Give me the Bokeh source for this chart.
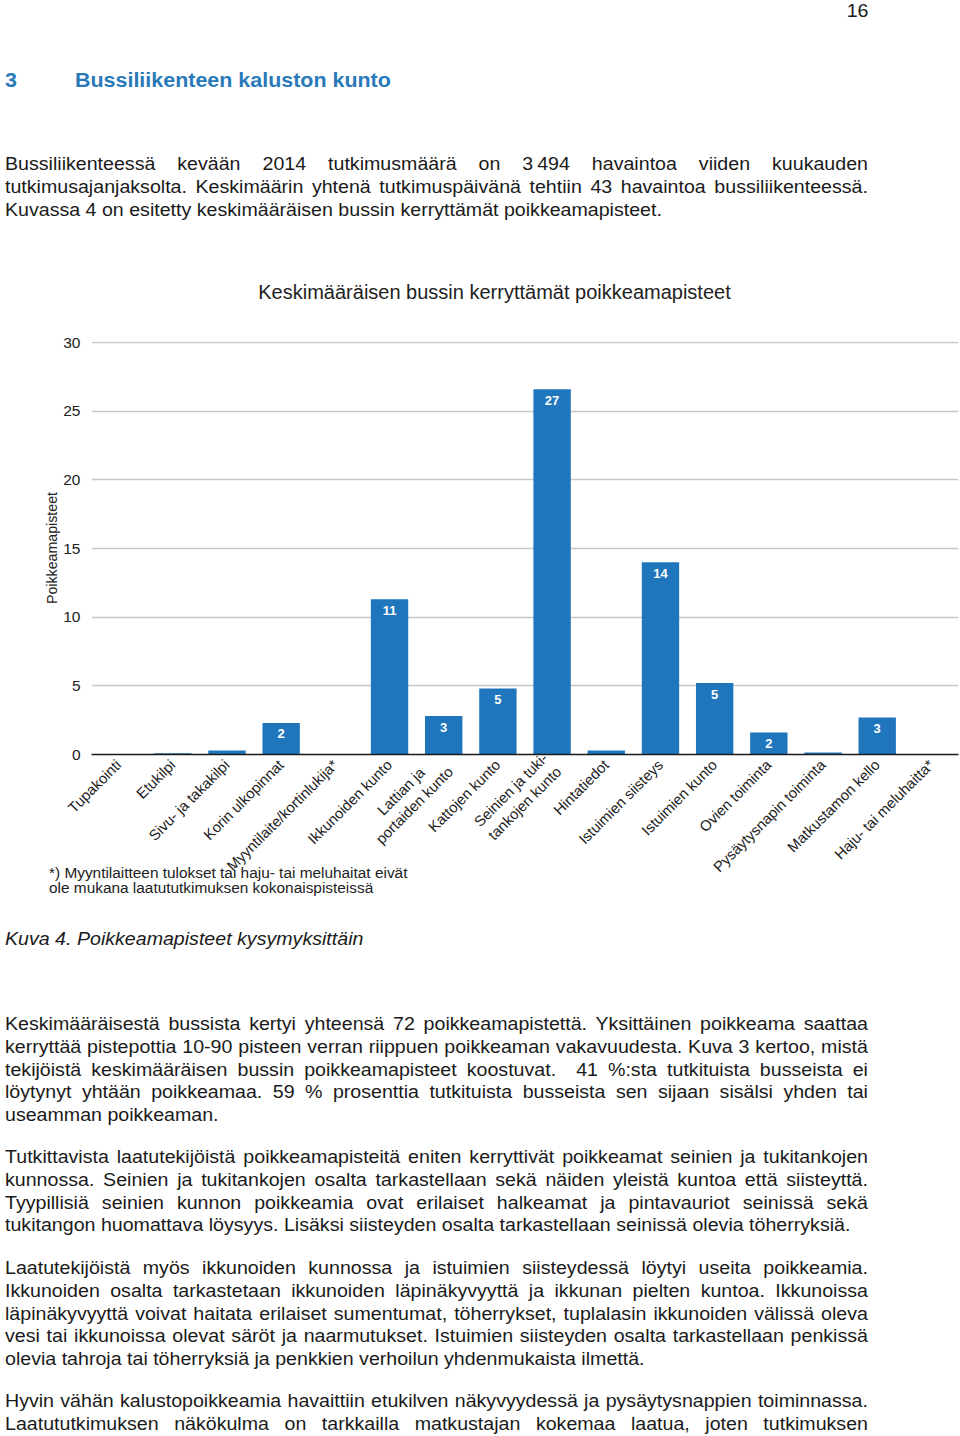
import math
from bokeh.plotting import figure
from bokeh.models import FactorRange, Range1d, FixedTicker, ColumnDataSource, Div
from bokeh.layouts import column
from bokeh.core.properties import value
from bokeh.embed import file_html
from bokeh.resources import INLINE

# ---------------- data ----------------
categories = ["Tupakointi", "Etukilpi", "Sivu- ja takakilpi", "Korin ulkopinnat",
              "Myyntilaite/kortinlukija*", "Ikkunoiden kunto", "Lattian ja     \nportaiden kunto",
              "Kattojen kunto", "Seinien ja tuki-\ntankojen kunto", "Hintatiedot",
              "Istuimien siisteys", "Istuimien kunto", "Ovien toiminta",
              "Pysäytysnapin toiminta", "Matkustamon kello", "Haju- tai meluhaitta*"]
values = [0, 0.1, 0.3, 2.3, 0, 11.3, 2.8, 4.8, 26.6, 0.3, 14.0, 5.2, 1.6, 0.15, 2.7, 0]
y_ticks = [0, 5, 10, 15, 20, 25, 30]
chart_title = "Keskimääräisen bussin kerryttämät poikkeamapisteet"
y_label = "Poikkeamapisteet"
footnote = ["*) Myyntilaitteen tulokset tai haju- tai meluhaitat eivät",
            "ole mukana laatututkimuksen kokonaispisteissä"]

page_number = "16"
heading_num = "3"
heading_text = "Bussiliikenteen kaluston kunto"
para_intro = ["Bussiliikenteessä kevään 2014 tutkimusmäärä on 3\u202f494 havaintoa viiden kuukauden",
              "tutkimusajanjaksolta. Keskimäärin yhtenä tutkimuspäivänä tehtiin 43 havaintoa bussiliikenteessä.",
              "Kuvassa 4 on esitetty keskimääräisen bussin kerryttämät poikkeamapisteet."]
caption = "Kuva 4. Poikkeamapisteet kysymyksittäin"
para_a = ["Keskimääräisestä bussista kertyi yhteensä 72 poikkeamapistettä. Yksittäinen poikkeama saattaa",
          "kerryttää pistepottia 10-90 pisteen verran riippuen poikkeaman vakavuudesta. Kuva 3 kertoo, mistä",
          "tekijöistä keskimääräisen bussin poikkeamapisteet koostuvat.\u00a0 41 %:sta tutkituista busseista ei",
          "löytynyt yhtään poikkeamaa. 59 % prosenttia tutkituista busseista sen sijaan sisälsi yhden tai",
          "useamman poikkeaman."]
para_b = ["Tutkittavista laatutekijöistä poikkeamapisteitä eniten kerryttivät poikkeamat seinien ja tukitankojen",
          "kunnossa. Seinien ja tukitankojen osalta tarkastellaan sekä näiden yleistä kuntoa että siisteyttä.",
          "Tyypillisiä seinien kunnon poikkeamia ovat erilaiset halkeamat ja pintavauriot seinissä sekä",
          "tukitangon huomattava löysyys. Lisäksi siisteyden osalta tarkastellaan seinissä olevia töherryksiä."]
para_c = ["Laatutekijöistä myös ikkunoiden kunnossa ja istuimien siisteydessä löytyi useita poikkeamia.",
          "Ikkunoiden osalta tarkastetaan ikkunoiden läpinäkyvyyttä ja ikkunan pielten kuntoa. Ikkunoissa",
          "läpinäkyvyyttä voivat haitata erilaiset sumentumat, töherrykset, tuplalasin ikkunoiden välissä oleva",
          "vesi tai ikkunoissa olevat säröt ja naarmutukset. Istuimien siisteyden osalta tarkastellaan penkissä",
          "olevia tahroja tai töherryksiä ja penkkien verhoilun yhdenmukaista ilmettä."]
para_d = ["Hyvin vähän kalustopoikkeamia havaittiin etukilven näkyvyydessä ja pysäytysnappien toiminnassa.",
          "Laatututkimuksen näkökulma on tarkkailla matkustajan kokemaa laatua, joten tutkimuksen"]

# ---------------- styles ----------------
FONT = "'Liberation Sans', Arial, Helvetica, sans-serif"
TXT = "#1a1a1a"
BLUE_HEAD = "#2a7ab9"
BAR = "#1f76bd"
CHART_TXT = "#222222"
SCALE = 1.12
FS = 17.5
LH = 22.7
INNER_W = 863 / SCALE
PAGE_W = 960
TOP_H = 322
FIG_H = 576
BOT_H = 1436 - TOP_H - FIG_H


def para_html(lines, top, last_final=True):
    out = []
    for i, ln in enumerate(lines):
        is_last = (i == len(lines) - 1) and last_final
        align = "text-align:left;" if is_last else "text-align:justify;text-align-last:justify;"
        out.append(f'<div style="{align}white-space:nowrap;">{ln}</div>')
    return (f'<div style="position:absolute;left:5px;top:{top}px;width:{INNER_W:.1f}px;'
            f'transform:scaleX({SCALE});transform-origin:0 0;font-size:{FS}px;line-height:{LH}px;">'
            + "".join(out) + "</div>")


top_html = (
    f'<div style="position:relative;width:{PAGE_W}px;height:{TOP_H}px;font-family:{FONT};color:{TXT};">'
    f'<div style="position:absolute;right:92px;top:2px;transform:scaleX({SCALE});transform-origin:100% 0;'
    f'font-size:{FS}px;line-height:18px;">{page_number}</div>'
    f'<div style="position:absolute;left:5px;top:68.9px;transform:scaleX(1.1);transform-origin:0 0;'
    f'font-size:19.5px;line-height:{LH}px;font-weight:bold;color:{BLUE_HEAD};">{heading_num}</div>'
    f'<div style="position:absolute;left:75px;top:68.9px;transform:scaleX(1.1);transform-origin:0 0;'
    f'font-size:19.5px;line-height:{LH}px;font-weight:bold;color:{BLUE_HEAD};white-space:nowrap;">{heading_text}</div>'
    + para_html(para_intro, 153.3)
    + f'<div style="position:absolute;left:194.5px;width:600px;top:280.2px;text-align:center;'
      f'font-size:20px;line-height:24px;color:{CHART_TXT};white-space:nowrap;">{chart_title}</div>'
    + '</div>'
)

foot_html = "".join(
    f'<div style="position:absolute;left:49px;top:{-33.4 + 15 * i:.1f}px;font-size:15.4px;line-height:15px;'
    f'color:{CHART_TXT};white-space:nowrap;">{ln}</div>' for i, ln in enumerate(footnote))

bottom_html = (
    f'<div style="position:relative;width:{PAGE_W}px;height:{BOT_H}px;font-family:{FONT};color:{TXT};overflow:visible;">'
    + foot_html
    + f'<div style="position:absolute;left:5px;top:30.3px;transform:scaleX({SCALE});transform-origin:0 0;'
      f'font-size:{FS}px;line-height:{LH}px;font-style:italic;white-space:nowrap;">{caption}</div>'
    + para_html(para_a, 115.3)
    + para_html(para_b, 248.3)
    + para_html(para_c, 359.3)
    + para_html(para_d, 492.3, last_final=False)
    + '</div>'
)

div_top = Div(text=top_html, width=PAGE_W, height=TOP_H, margin=0, styles={"overflow": "visible"})
div_bottom = Div(text=bottom_html, width=PAGE_W, height=BOT_H, margin=0,
                 styles={"overflow": "visible", "z-index": "5"})

# ---------------- chart ----------------
labels = [str(round(v)) if v >= 1 else "" for v in values]
src = ColumnDataSource(data=dict(cat=categories, val=values, lbl=labels))

p = figure(x_range=FactorRange(factors=categories, range_padding=0), y_range=Range1d(0, 30.08),
           width=PAGE_W, height=FIG_H, output_backend="svg", toolbar_location=None,
           min_border_left=91, min_border_right=2, min_border_top=19, min_border_bottom=144,
           margin=0)
p.outline_line_color = None
p.background_fill_color = "white"
p.border_fill_color = "white"

p.vbar(x="cat", top="val", width=0.69, source=src, fill_color=BAR, line_color=None)
p.text(x="cat", y="val", text="lbl", source=src, text_color="white",
       text_font=value("Liberation Sans"), text_font_style="bold", text_font_size="13px",
       text_align="center", text_baseline="middle", y_offset=11)

xa = p.xaxis[0]
xa.major_label_orientation = math.pi / 4
xa.major_label_text_font = "Liberation Sans"
xa.major_label_text_font_size = "14.8px"
xa.major_label_text_color = CHART_TXT
xa.major_tick_line_color = None
xa.major_tick_in = 0
xa.major_tick_out = 0
xa.minor_tick_line_color = None
xa.axis_line_color = "#1a1a1a"
xa.axis_line_width = 1.5
xa.major_label_standoff = 8
p.xgrid.grid_line_color = None

ya = p.yaxis[0]
ya.ticker = FixedTicker(ticks=y_ticks)
ya.axis_line_color = None
ya.major_tick_line_color = None
ya.major_tick_in = 0
ya.major_tick_out = 0
ya.minor_tick_line_color = None
ya.major_label_standoff = 11
ya.major_label_text_font = "Liberation Sans"
ya.major_label_text_font_size = "15.5px"
ya.major_label_text_color = CHART_TXT
ya.axis_label = y_label
ya.axis_label_text_font = "Liberation Sans"
ya.axis_label_text_font_style = "normal"
ya.axis_label_text_font_size = "14.2px"
ya.axis_label_text_color = CHART_TXT
ya.axis_label_standoff = 0
p.ygrid.grid_line_color = "#c8c8c8"
p.ygrid.grid_line_width = 1.5

layout = column(div_top, p, div_bottom, spacing=0)
open("out.html", "w").write(file_html(layout, INLINE))
